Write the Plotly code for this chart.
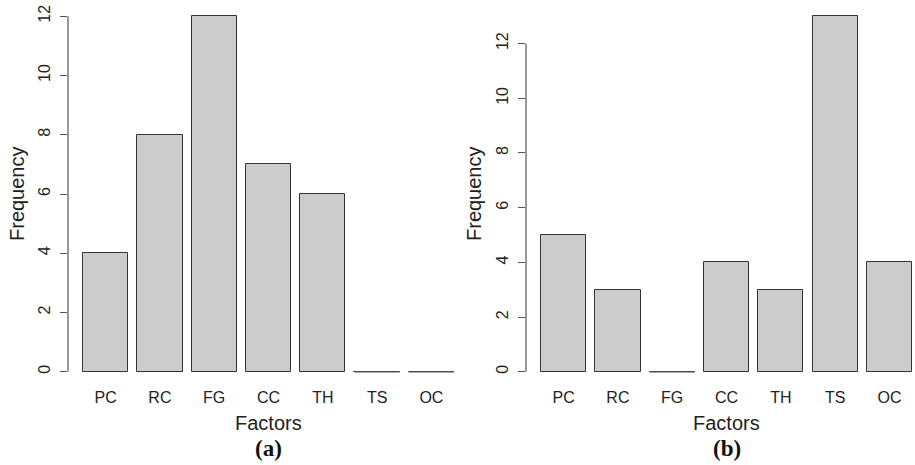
import plotly.graph_objects as go

categories = ["PC", "RC", "FG", "CC", "TH", "TS", "OC"]
freq_a = [4, 8, 12, 7, 6, 0, 0]
freq_b = [5, 3, 0, 4, 3, 13, 4]
yticks = [0, 2, 4, 6, 8, 10, 12]

W, H = 915, 465
BAR_W = 1 / 1.2
FONT = "Liberation Sans, Arial, Helvetica, sans-serif"

fig = go.Figure()
xpos = list(range(len(categories)))

for i, (vals, xa, ya) in enumerate([(freq_a, "x", "y"), (freq_b, "x2", "y2")]):
    fig.add_trace(go.Bar(
        x=xpos, y=vals, width=BAR_W, xaxis=xa, yaxis=ya,
        marker=dict(color="#cccccc", line=dict(color="#333333", width=1)),
        showlegend=False,
    ))
    # zero-height bars are drawn as a flat line, as in R
    for xv, v in zip(xpos, vals):
        if v == 0:
            fig.add_shape(type="line", xref=xa, yref=ya,
                          x0=xv - BAR_W / 2, x1=xv + BAR_W / 2, y0=0, y1=0,
                          line=dict(color="#555555", width=1.2))
    # y axis line from 0 to 12 only
    fig.add_shape(type="line", xref=xa + " domain", yref=ya,
                  x0=0, x1=0, y0=yticks[0], y1=yticks[-1],
                  line=dict(color="#555555", width=1.2))

ydom = [1 - 386 / H, 1 - 2 / H]
common_y = dict(tickvals=yticks, ticktext=[str(t) for t in yticks], ticks="outside",
                ticklen=7, tickcolor="#555555", tickwidth=1.2, tickangle=-90,
                showgrid=False, zeroline=False, showline=False,
                tickfont=dict(family=FONT, size=16, color="#222222"),
                ticklabelstandoff=4, domain=ydom)
common_x = dict(tickvals=xpos, ticktext=categories, ticks="", showgrid=False,
                zeroline=False, showline=False,
                tickfont=dict(family=FONT, size=16, color="#222222"))

maxa = max(freq_a)
maxb = max(freq_b)
fig.update_layout(
    width=W, height=H, margin=dict(l=0, r=0, t=0, b=0),
    plot_bgcolor="white", paper_bgcolor="white",
    xaxis=dict(domain=[68 / W, 469 / W], range=[-0.692, 6.692], anchor="y", **common_x),
    yaxis=dict(range=[-0.04 * maxa, maxa * 1.04], anchor="x", **common_y),
    xaxis2=dict(domain=[526 / W, 1.0], range=[-0.692, 6.47], anchor="y2", **common_x),
    yaxis2=dict(range=[-0.04 * maxb, maxb * 1.04], anchor="x2", **common_y),
    bargap=0,
)

ann = []
for xc, lab, yl in [((68 + 469) / 2, "(a)", 17), ((526 + 927) / 2, "(b)", 474)]:
    ann.append(dict(x=xc / W, y=1 - 423 / H, xref="paper", yref="paper", text="Factors",
                    showarrow=False, font=dict(family=FONT, size=20, color="#222222"),
                    xanchor="center", yanchor="middle"))
    ann.append(dict(x=xc / W, y=1 - 448 / H, xref="paper", yref="paper", text="<b>" + lab + "</b>",
                    showarrow=False, font=dict(family="Liberation Serif, Times New Roman, serif", size=23, color="#111111"),
                    xanchor="center", yanchor="middle"))
    ann.append(dict(x=yl / W, y=1 - 194 / H, xref="paper", yref="paper", text="Frequency",
                    showarrow=False, textangle=-90, font=dict(family=FONT, size=20, color="#222222"),
                    xanchor="center", yanchor="middle"))
fig.update_layout(annotations=ann)

fig.write_html("out.html")
